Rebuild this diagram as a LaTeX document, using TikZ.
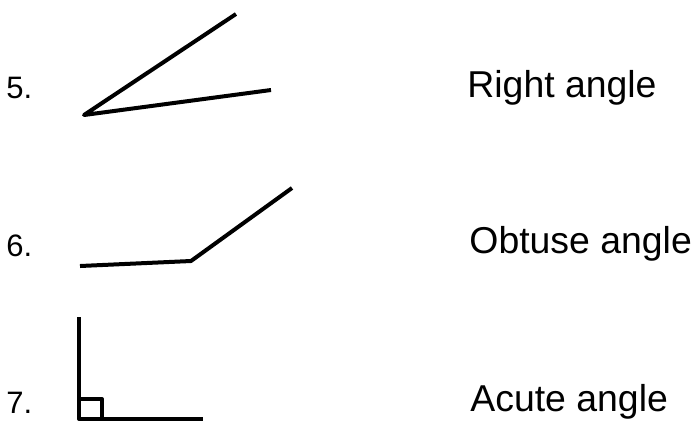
\documentclass[tikz,border=0pt]{standalone}
\usepackage{fontspec}
\setmainfont{Liberation Sans}
\begin{document}
\begin{tikzpicture}[x=0.5pt,y=-0.5pt,
  ray/.style={line width=2pt,line join=round},
  numlabel/.style={anchor=base west,inner sep=0pt,font=\fontsize{15.5}{18}\selectfont},
  namelabel/.style={anchor=base west,inner sep=0pt,font=\fontsize{18.7}{21}\selectfont}]
\useasboundingbox (0,0) rectangle (696,420);
% labels
\node[numlabel] (n5) at (6,98) {5.};
\node[numlabel] (n6) at (6,256) {6.};
\node[numlabel] (n7) at (6,413) {7.};
\node[namelabel] (t5) at (467,97) {Right angle};
\node[namelabel] (t6) at (469,253) {Obtuse angle};
\node[namelabel] (t7) at (470,411) {Acute angle};
% angle 5
\coordinate (a5v) at (84,115);
\draw[ray] (236,14) -- (a5v) -- (271,90);
% angle 6
\coordinate (a6v) at (191,261);
\draw[ray] (80,266) -- (a6v) -- (292,188);
% angle 7
\coordinate (a7v) at (79,419);
\draw[ray] (79,317) -- (a7v) -- (203,419);
\draw[ray] (79,399) -- (102,399) -- (102,420);
\end{tikzpicture}
\end{document}
